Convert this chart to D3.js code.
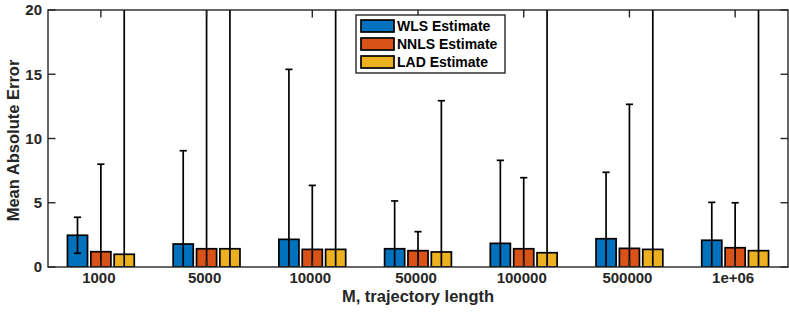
<!DOCTYPE html>
<html>
<head>
<meta charset="utf-8">
<script src="https://cdn.jsdelivr.net/npm/d3@7"></script>
<style>
  body { margin: 0; background: #fff; }
  svg { display: block; font-family: "Liberation Sans", Arial, sans-serif; font-weight: bold; }
  .axis-text { fill: #262626; }
</style>
</head>
<body>
<div id="chart"></div>
<script>
const categories = ["1000", "5000", "10000", "50000", "100000", "500000", "1e+06"];
const seriesNames = ["WLS Estimate", "NNLS Estimate", "LAD Estimate"];
const seriesColors = ["#0072BD", "#D95319", "#EDB120"];

// mean absolute error per method
const wlsMean = [2.47, 1.79, 2.15, 1.42, 1.84, 2.20, 2.08];
const nnlsMean = [1.19, 1.42, 1.37, 1.27, 1.42, 1.45, 1.50];
const ladMean = [0.99, 1.42, 1.37, 1.17, 1.11, 1.37, 1.27];

// error bar half-lengths (values past 20 run off the top of the axes)
const wlsErr = [1.40, 7.26, 13.23, 3.72, 6.46, 5.17, 2.95];
const nnlsErr = [6.81, 30, 4.98, 1.48, 5.53, 11.21, 3.50];
const ladErr = [30, 30, 30, 11.77, 30, 30, 30];

const yTicks = [0, 5, 10, 15, 20];

const means = [wlsMean, nnlsMean, ladMean];
const errs = [wlsErr, nnlsErr, ladErr];

const W = 789, H = 316;
const margin = { top: 10, right: 1, bottom: 49, left: 48 };
const width = W - margin.left - margin.right;
const height = H - margin.top - margin.bottom;

const svg = d3.select("#chart").append("svg")
  .attr("width", W)
  .attr("height", H);

const g = svg.append("g").attr("transform", `translate(${margin.left},${margin.top})`);

const x = d3.scaleBand().domain(categories).range([0, width]).padding(0);
const y = d3.scaleLinear().domain([0, 20]).range([height, 0]);

const step = x.bandwidth();
const barW = step * 0.19;
const offsets = [-0.221, 0, 0.221].map(f => f * step);
const tickLen = 7.5;

g.append("clipPath").attr("id", "plot-clip")
  .append("rect").attr("width", width).attr("height", height);

const plot = g.append("g").attr("clip-path", "url(#plot-clip)");

const bars = [];
means.forEach((arr, s) => {
  arr.forEach((v, i) => bars.push({ s, cat: categories[i], v, e: errs[s][i] }));
});

plot.selectAll(".bar")
  .data(bars)
  .join("rect")
  .attr("class", "bar")
  .attr("x", d => x(d.cat) + step / 2 + offsets[d.s] - barW / 2)
  .attr("y", d => y(d.v))
  .attr("width", barW)
  .attr("height", d => y(0) - y(d.v))
  .attr("fill", d => seriesColors[d.s])
  .attr("stroke", "#000")
  .attr("stroke-width", 1.7);

// error bars
const cx = d => x(d.cat) + step / 2 + offsets[d.s];
const errG = plot.selectAll(".err").data(bars).join("g").attr("class", "err")
  .attr("stroke", "#000").attr("stroke-width", 1.7);
errG.append("line")
  .attr("x1", cx).attr("x2", cx)
  .attr("y1", d => y(d.v - d.e)).attr("y2", d => y(d.v + d.e));
errG.append("line")
  .attr("x1", d => cx(d) - 3.6).attr("x2", d => cx(d) + 3.6)
  .attr("y1", d => y(d.v + d.e)).attr("y2", d => y(d.v + d.e));
errG.append("line")
  .attr("x1", d => cx(d) - 3.6).attr("x2", d => cx(d) + 3.6)
  .attr("y1", d => y(d.v - d.e)).attr("y2", d => y(d.v - d.e));

// axes box with inward ticks on all four sides
const axisG = g.append("g").attr("stroke", "#262626").attr("stroke-width", 1.4).attr("fill", "none");
axisG.append("rect").attr("width", width).attr("height", height);

yTicks.forEach(t => {
  axisG.append("line").attr("x1", 0).attr("x2", tickLen).attr("y1", y(t)).attr("y2", y(t));
  axisG.append("line").attr("x1", width).attr("x2", width - tickLen).attr("y1", y(t)).attr("y2", y(t));
});
categories.forEach(c => {
  const px = x(c) + step / 2;
  axisG.append("line").attr("x1", px).attr("x2", px).attr("y1", height).attr("y2", height - tickLen);
  axisG.append("line").attr("x1", px).attr("x2", px).attr("y1", 0).attr("y2", tickLen);
});

g.selectAll(".ytl")
  .data(yTicks)
  .join("text")
  .attr("class", "axis-text")
  .attr("x", -6)
  .attr("y", d => y(d))
  .attr("dy", "0.35em")
  .attr("text-anchor", "end")
  .style("font-size", "15px")
  .text(d => d);

g.selectAll(".xtl")
  .data(categories)
  .join("text")
  .attr("class", "axis-text")
  .attr("x", d => x(d) + step / 2 - 2)
  .attr("y", height + 16)
  .attr("text-anchor", "middle")
  .style("font-size", "15px")
  .text(d => d);

svg.append("text")
  .attr("class", "axis-text")
  .attr("x", margin.left + width / 2)
  .attr("y", 302)
  .attr("text-anchor", "middle")
  .style("font-size", "16.5px")
  .text("M, trajectory length");

svg.append("text")
  .attr("class", "axis-text")
  .attr("transform", `translate(19,${margin.top + height / 2 + 2}) rotate(-90)`)
  .attr("text-anchor", "middle")
  .style("font-size", "16.5px")
  .text("Mean Absolute Error");

// legend
const legend = svg.append("g").attr("transform", "translate(356,15)");
legend.append("rect")
  .attr("width", 149)
  .attr("height", 58)
  .attr("fill", "#fff")
  .attr("stroke", "#262626")
  .attr("stroke-width", 1.4);

const items = legend.selectAll(".item")
  .data(seriesNames)
  .join("g")
  .attr("transform", (d, i) => `translate(5,${5 + i * 18})`);

items.append("rect")
  .attr("width", 33)
  .attr("height", 12)
  .attr("fill", (d, i) => seriesColors[i])
  .attr("stroke", "#000")
  .attr("stroke-width", 1.7);

items.append("text")
  .attr("x", 36)
  .attr("y", 6)
  .attr("dy", "0.36em")
  .style("font-size", "14px")
  .style("fill", "#000")
  .text(d => d);
</script>
</body>
</html>
